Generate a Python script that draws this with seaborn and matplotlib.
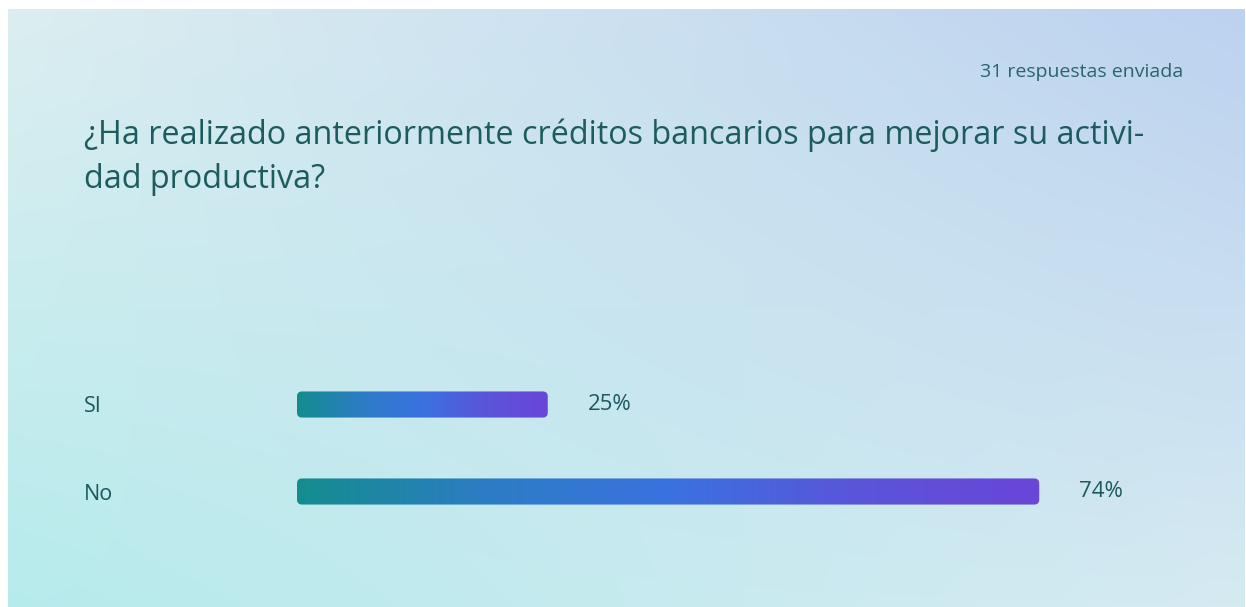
import numpy as np
import pandas as pd
import matplotlib
matplotlib.use("Agg")
import matplotlib.pyplot as plt
from matplotlib.colors import LinearSegmentedColormap, to_rgb
from matplotlib.patches import FancyBboxPatch
import seaborn as sns

# data
categories = ["SI", "No"]
percent = [25, 74]
title = "¿Ha realizado anteriormente créditos bancarios para mejorar su activi-\ndad productiva?"
responses = "31 respuestas enviada"

W, H = 1246, 607
sns.set_theme(style="white")
plt.rcParams['font.family'] = ['Open Sans', 'DejaVu Sans']
txt_col = "#1b5a5c"

fig = plt.figure(figsize=(W / 100, H / 100), dpi=100)
fig.patch.set_facecolor("white")

# background panel, soft 4-corner gradient
bg = fig.add_axes([8 / W, 0, (1245 - 8) / W, (H - 9) / H])
tl, tr = np.array(to_rgb("#dceef1")), np.array(to_rgb("#bcd2ef"))
bl, br = np.array(to_rgb("#b6ebec")), np.array(to_rgb("#d6eaf2"))
u = np.linspace(0, 1, 400)[None, :, None]
v = np.linspace(0, 1, 200)[:, None, None]
img = (1 - v) * ((1 - u) * tl + u * tr) + v * ((1 - u) * bl + u * br)
bg.imshow(img, aspect="auto", extent=[0, 1, 0, 1], interpolation="bilinear")
bg.set_axis_off()

# bar axes: x starts at pixel 297, ~10.03 px per percent
px_per_pct = 10.03
ax_left, ax_right = 297, 1240
ax_top, ax_bot = 361, 535
ax = fig.add_axes([ax_left / W, (H - ax_bot) / H, (ax_right - ax_left) / W, (ax_bot - ax_top) / H])
ax.patch.set_alpha(0)

df = pd.DataFrame({"answer": categories, "pct": percent})
sns.barplot(data=df, y="answer", x="pct", orient="h", width=0.3, ax=ax, color="#3a72e0")

grad = LinearSegmentedColormap.from_list("bar", ["#148d8e", "#2c7dc4", "#3a72e0", "#5a55da", "#6a45d8"])
gimg = np.linspace(0, 1, 256)[None, :]
data_y_per_px = 2.0 / (ax_bot - ax_top)
data_x_per_px = 1.0 / px_per_pct
for p in list(ax.patches):
    x0, y0, w, h = p.get_x(), p.get_y(), p.get_width(), p.get_height()
    p.set_visible(False)
    clip = FancyBboxPatch((x0, y0), w, h,
                          boxstyle=f"round,pad=0,rounding_size={5 * data_x_per_px}",
                          mutation_aspect=data_y_per_px / data_x_per_px,
                          facecolor="none", edgecolor="none", transform=ax.transData)
    ax.add_patch(clip)
    im = ax.imshow(gimg, cmap=grad, aspect="auto", extent=[x0, x0 + w, y0 + h, y0],
                   interpolation="bilinear", zorder=3)
    im.set_clip_path(clip)
ax.set_xlim(0, (ax_right - ax_left) / px_per_pct)
ax.set_ylim(1.5, -0.5)

for i, val in enumerate(percent):
    ax.annotate(f"{val}%", xy=(val, i), xytext=(40 * 0.72, 0), textcoords="offset points",
                va="center", ha="left", fontsize=16, color=txt_col)

ax.set_yticks(range(len(categories)))
ax.set_yticklabels(categories, fontsize=15.5, color=txt_col, ha="left")
ax.tick_params(axis="y", length=0, pad=(ax_left - 84) * 0.72)
ax.set_xticks([])
ax.set_xlabel("")
ax.set_ylabel("")
sns.despine(ax=ax, left=True, bottom=True)

fig.text(84 / W, 1 - 157 / H, title, fontsize=23.3, color="#1d5c5e",
         va="center", ha="left", linespacing=1.45)
fig.text(1183 / W, 1 - 72 / H, responses, fontsize=14, color="#2a6567", va="center", ha="right")

fig.savefig("out.png", dpi=100)
